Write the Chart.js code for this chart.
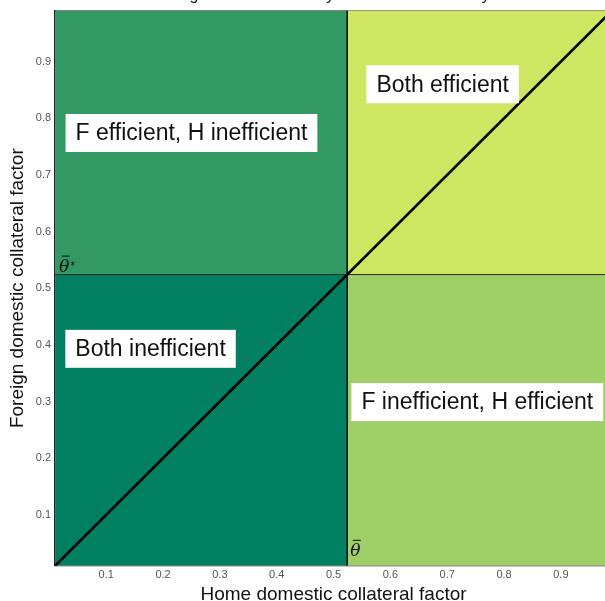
<!DOCTYPE html>
<html>
<head>
<meta charset="utf-8">
<script src="https://cdn.jsdelivr.net/npm/chart.js@4"></script>
<style>
  html, body { margin: 0; padding: 0; overflow: hidden; background: #fff; }
  #wrap { width: 605px; height: 601px; overflow: hidden; position: relative; }
  #box { position: absolute; left: 0; top: 0; width: 612px; height: 604px; }
</style>
</head>
<body>
<div id="wrap"><div id="box"><canvas id="c"></canvas></div></div>
<script>
// Collateral factor range shown on both axes
const axisRange = [0.01, 0.99];
// Efficiency threshold (theta-bar) for home and foreign
const thresholdHome = 0.524;
const thresholdForeign = 0.524;
// Tick labels on both axes
const tickValues = [0.1, 0.2, 0.3, 0.4, 0.5, 0.6, 0.7, 0.8, 0.9];

// Regions: text and where the text sits (in collateral-factor units)
const regionNames = ['F efficient, H inefficient', 'Both efficient', 'Both inefficient', 'F inefficient, H efficient'];
const regionLabelX = [0.250, 0.692, 0.178, 0.753];
const regionLabelY = [0.774, 0.860, 0.393, 0.299];

// Region fill colours: top-left, top-right, bottom-left, bottom-right
const regionColors = ['rgb(50,153,99)', 'rgb(207,230,99)', 'rgb(0,128,96)', 'rgb(158,208,103)'];

const titleText = 'Collateral regimes and efficiency in the world economy';

const lo = axisRange[0], hi = axisRange[1];

const datasets = [
  { // 45-degree line: equal home and foreign factors
    data: [{x: lo, y: lo}, {x: hi, y: hi}],
    borderColor: '#000', borderWidth: 2.6, pointRadius: 0, fill: false
  },
  { // home threshold
    data: [{x: thresholdHome, y: lo}, {x: thresholdHome, y: hi}],
    borderColor: '#111', borderWidth: 1.6, pointRadius: 0, fill: false
  },
  { // foreign threshold
    data: [{x: lo, y: thresholdForeign}, {x: hi, y: thresholdForeign}],
    borderColor: '#222', borderWidth: 1, pointRadius: 0, fill: false
  },
  { // top-left region
    data: [{x: lo, y: thresholdForeign}, {x: thresholdHome, y: thresholdForeign}],
    borderWidth: 0, pointRadius: 0, fill: 'end', backgroundColor: regionColors[0]
  },
  { // top-right region
    data: [{x: thresholdHome, y: thresholdForeign}, {x: hi, y: thresholdForeign}],
    borderWidth: 0, pointRadius: 0, fill: 'end', backgroundColor: regionColors[1]
  },
  { // bottom-left region
    data: [{x: lo, y: thresholdForeign}, {x: thresholdHome, y: thresholdForeign}],
    borderWidth: 0, pointRadius: 0, fill: 'start', backgroundColor: regionColors[2]
  },
  { // bottom-right region
    data: [{x: thresholdHome, y: thresholdForeign}, {x: hi, y: thresholdForeign}],
    borderWidth: 0, pointRadius: 0, fill: 'start', backgroundColor: regionColors[3]
  }
];

const sansFamily = '"Liberation Sans", Arial, sans-serif';

// Title text sitting mostly above the canvas top
const titlePlugin = {
  id: 'topTitle',
  afterDraw(chart) {
    const ctx = chart.ctx;
    const a = chart.chartArea;
    ctx.save();
    ctx.font = '16px ' + sansFamily;
    ctx.fillStyle = '#222';
    ctx.textAlign = 'center';
    ctx.textBaseline = 'alphabetic';
    ctx.fillText(titleText, (a.left + a.right) / 2 - 37, -0.5);
    ctx.restore();
  }
};

// theta with a bar over it, optionally starred
function drawThetaBar(ctx, x, baseline, starred) {
  ctx.font = 'italic 17px "DejaVu Serif", serif';
  ctx.fillText('\u03B8', x, baseline);
  const w = ctx.measureText('\u03B8').width;
  ctx.beginPath();
  ctx.moveTo(x + 2.5, baseline - 15.5);
  ctx.lineTo(x + w + 0.5, baseline - 15.5);
  ctx.lineWidth = 1;
  ctx.strokeStyle = '#111';
  ctx.stroke();
  if (starred) {
    ctx.font = '10px "DejaVu Sans", sans-serif';
    ctx.fillText('*', x + w + 1, baseline - 3);
  }
}

// White label boxes and threshold symbols
const labelPlugin = {
  id: 'regionLabels',
  afterDatasetsDraw(chart) {
    const ctx = chart.ctx;
    const xs = chart.scales.x, ys = chart.scales.y;
    ctx.save();
    ctx.font = '23px ' + sansFamily;
    ctx.textAlign = 'center';
    ctx.textBaseline = 'middle';
    regionNames.forEach((name, i) => {
      const cx = xs.getPixelForValue(regionLabelX[i]);
      const cy = ys.getPixelForValue(regionLabelY[i]);
      const w = ctx.measureText(name).width + 20;
      const h = 38;
      ctx.fillStyle = '#fff';
      ctx.fillRect(cx - w / 2, cy - h / 2, w, h);
      ctx.fillStyle = '#111';
      ctx.fillText(name, cx, cy + 1);
    });

    // theta-bar symbols next to the threshold lines
    ctx.fillStyle = '#111';
    ctx.textAlign = 'left';
    ctx.textBaseline = 'alphabetic';
    const tx = xs.getPixelForValue(thresholdHome);
    const ty = ys.getPixelForValue(thresholdForeign);
    drawThetaBar(ctx, tx + 3, ys.getPixelForValue(lo) - 10, false);
    drawThetaBar(ctx, chart.chartArea.left + 4, ty - 3, true);
    ctx.restore();
  }
};

const tickFont = { family: sansFamily, size: 11 };
const titleFont = { family: sansFamily, size: 19 };

new Chart(document.getElementById('c'), {
  type: 'line',
  data: { datasets },
  options: {
    responsive: true,
    maintainAspectRatio: false,
    animation: false,
    layout: { padding: { top: 5, left: 5, right: 0, bottom: 0 } },
    plugins: {
      legend: { display: false },
      tooltip: { enabled: false },
      title: { display: false }
    },
    scales: {
      x: {
        type: 'linear', min: lo, max: hi,
        afterBuildTicks: s => { s.ticks = tickValues.map(v => ({ value: v })); },
        ticks: { font: tickFont, color: '#555', padding: 3, maxRotation: 0,
                 callback: v => v.toFixed(1) },
        grid: { display: false, drawTicks: false },
        border: { color: '#8a8a8a', width: 1.5 },
        title: { display: true, text: 'Home domestic collateral factor',
                 font: { family: sansFamily, size: 19, lineHeight: 1.0 },
                 color: '#111', padding: { top: 0, bottom: 0 } }
      },
      x2: {
        type: 'linear', axis: 'x', position: 'top', min: lo, max: hi,
        ticks: { display: false },
        grid: { display: false, drawTicks: false },
        border: { color: '#8a8a8a', width: 1.5 }
      },
      y: {
        type: 'linear', min: lo, max: hi,
        afterBuildTicks: s => { s.ticks = tickValues.map(v => ({ value: v })); },
        ticks: { font: tickFont, color: '#555', padding: 4,
                 callback: v => v.toFixed(1) },
        grid: { display: false, drawTicks: false },
        border: { color: '#222', width: 1.5 },
        title: { display: true, text: 'Foreign domestic collateral factor',
                 font: titleFont, color: '#111', padding: { top: 1, bottom: 3 } }
      }
    }
  },
  plugins: [titlePlugin, labelPlugin]
});
</script>
</body>
</html>
